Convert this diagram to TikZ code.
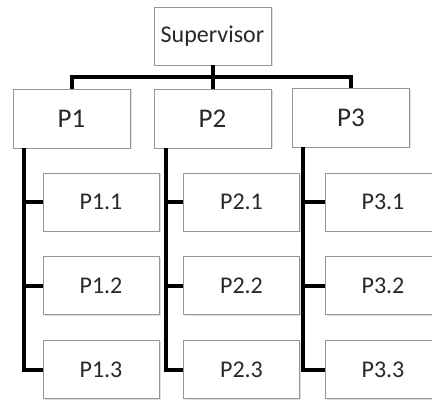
\documentclass[tikz,border=0pt]{standalone}
\usepackage{fontspec}
\setmainfont{Carlito}
\usetikzlibrary{positioning,shadows}
\definecolor{boxline}{RGB}{150,150,150}
\definecolor{boxtext}{RGB}{40,40,40}
\tikzset{%
  % Specifications for style of nodes:
        base/.style = {rectangle, draw=boxline, line width=0.8pt, fill=white,
                       minimum width=117pt, minimum height=58pt, inner sep=0pt,
                       text=boxtext, text centered,
                       drop shadow={shadow xshift=1.5pt, shadow yshift=-1.5pt,
                                    opacity=0.25}},
        boss/.style = {base, font=\fontsize{24}{28}\selectfont},
       group/.style = {base, minimum height=59pt, font=\fontsize{27}{31}\selectfont},
    subgroup/.style = {base, minimum width=116pt, font=\fontsize{24}{28}\selectfont},
        conn/.style = {line width=4pt, black},
}
\begin{document}
\begin{tikzpicture}[x=1pt, y=-1pt]
\useasboundingbox (0,0) rectangle (432,401);

\node (Sup)  [boss]     at (212.5,36)  {Supervisor};

\node (P1)   [group]    at (71.5,118.5) {P1};
\node (P2)   [group]    at (212.5,118.5) {P2};
\node (P3)   [group]    at (351,117.5)  {P3};

\node (P11)  [subgroup] at (101,202)   {P1.1};
\node (P12)  [subgroup, below=25pt of P11] {P1.2};
\node (P13)  [subgroup, below=25pt of P12] {P1.3};

\node (P21)  [subgroup] at (241.5,202) {P2.1};
\node (P22)  [subgroup, below=25pt of P21] {P2.2};
\node (P23)  [subgroup, below=25pt of P22] {P2.3};

\node (P31)  [subgroup] at (383,202)   {P3.1};
\node (P32)  [subgroup, below=25pt of P31] {P3.2};
\node (P33)  [subgroup, below=25pt of P32] {P3.3};

% top level
\coordinate (bar) at (212.5,77);
\draw[conn]  (Sup) -- (P2);
\draw[conn]  (P1.north) |- (bar) -| (P3.north);

% spines under each group
\coordinate (s1) at ([xshift=11pt]P1.south west);
\coordinate (s2) at ([xshift=12pt]P2.south west);
\coordinate (s3) at ([xshift=11pt]P3.south west);

\draw[conn]  (s1) |- (P13.west);
\draw[conn]  (s1 |- P11.west) -- (P11.west);
\draw[conn]  (s1 |- P12.west) -- (P12.west);

\draw[conn]  (s2) |- (P23.west);
\draw[conn]  (s2 |- P21.west) -- (P21.west);
\draw[conn]  (s2 |- P22.west) -- (P22.west);

\draw[conn]  (s3) |- (P33.west);
\draw[conn]  (s3 |- P31.west) -- (P31.west);
\draw[conn]  (s3 |- P32.west) -- (P32.west);
\end{tikzpicture}
\end{document}
